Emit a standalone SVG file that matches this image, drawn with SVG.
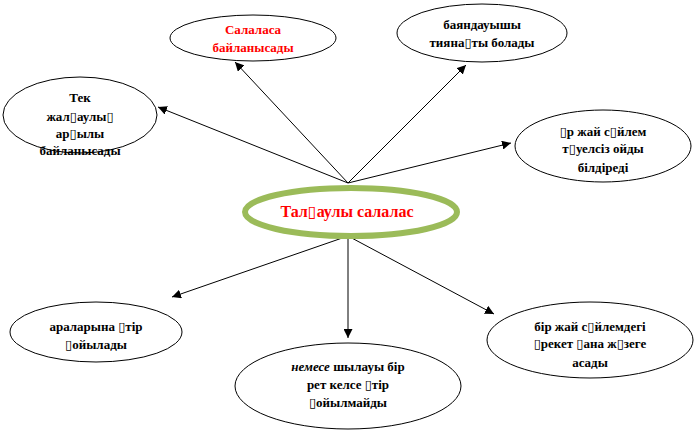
<svg xmlns="http://www.w3.org/2000/svg" width="696" height="432" viewBox="0 0 696 432">
<defs>
<style>
.n{fill:#fff;stroke:#000;stroke-width:1}
.t{font-family:"Liberation Serif","DejaVu Serif",serif;font-weight:bold;font-size:13px;text-anchor:middle;fill:#000}
.r{fill:#f00}
.c{stroke:#000;stroke-width:1;fill:none;marker-end:url(#a)}
</style>
<marker id="a" viewBox="0 0 10 10" refX="10" refY="5" markerWidth="9" markerHeight="9" markerUnits="userSpaceOnUse" orient="auto">
<path d="M0,0 L10,5 L0,10 z" fill="#000"/>
</marker>
</defs>
<rect width="696" height="432" fill="#fff"/>
<g id="connectors">
<line class="c" x1="348" y1="183" x2="158" y2="107"/>
<line class="c" x1="348" y1="183" x2="235" y2="62"/>
<line class="c" x1="348" y1="183" x2="466" y2="65"/>
<line class="c" x1="348" y1="183" x2="511" y2="143"/>
<line class="c" x1="348" y1="236" x2="172" y2="297"/>
<line class="c" x1="348" y1="236" x2="348" y2="338"/>
<line class="c" x1="348" y1="236" x2="494" y2="314"/>
</g>
<g id="n1">
<ellipse class="n" cx="253" cy="38" rx="83" ry="23"/>
<text class="t r" x="253" y="34">Салаласа</text>
<text class="t r" x="253" y="52">байланысады</text>
</g>
<g id="n2">
<ellipse class="n" cx="482" cy="33" rx="85" ry="29"/>
<text class="t" x="482" y="29">баяндауышы</text>
<text class="t" x="482" y="47">тияна▯ты болады</text>
</g>
<g id="n3">
<ellipse class="n" cx="80" cy="115" rx="77" ry="38"/>
<text class="t" x="80" y="102">Тек</text>
<text class="t" x="80" y="121">жал▯аулы▯</text>
<text class="t" x="80" y="138">ар▯ылы</text>
<text class="t" x="80" y="155">байланысады</text>
</g>
<g id="n4">
<ellipse class="n" cx="603" cy="146" rx="88" ry="36"/>
<text class="t" x="603" y="136">▯р жай с▯йлем</text>
<text class="t" x="603" y="153">т▯уелсіз ойды</text>
<text class="t" x="603" y="172">білдіреді</text>
</g>
<g id="center">
<ellipse cx="351" cy="212" rx="106" ry="24" fill="#fff" stroke="#9bbb59" stroke-width="6"/>
<text class="t r" x="347" y="217" style="font-size:16px">Тал▯аулы  салалас</text>
</g>
<g id="n5">
<ellipse class="n" cx="96" cy="332" rx="86" ry="30"/>
<text class="t" x="96" y="331">араларына ▯тір</text>
<text class="t" x="96" y="349">▯ойылады</text>
</g>
<g id="n6">
<ellipse class="n" cx="348" cy="386" rx="113" ry="43"/>
<text class="t" x="348" y="371"><tspan font-style="italic">немесе</tspan>  шылауы бір</text>
<text class="t" x="348" y="389">рет  келсе ▯тір</text>
<text class="t" x="348" y="407">▯ойылмайды</text>
</g>
<g id="n7">
<ellipse class="n" cx="590" cy="340" rx="103" ry="38"/>
<text class="t" x="590" y="331">бір жай с▯йлемдегі</text>
<text class="t" x="590" y="348">▯рекет ▯ана ж▯зеге</text>
<text class="t" x="590" y="367">асады</text>
</g>
</svg>
